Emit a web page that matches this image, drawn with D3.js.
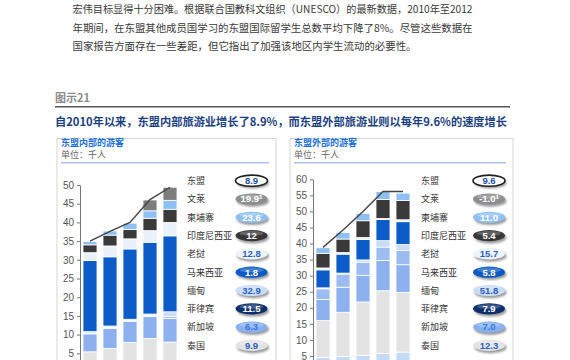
<!DOCTYPE html>
<html><head><meta charset="utf-8">
<script src="https://cdn.jsdelivr.net/npm/d3@7"></script>
<style>body{margin:0;background:#fff}svg{display:block}</style>
</head><body>
<script>
// ---------- DATA ----------
const years = ["2010","2011","2012","2013","2014"];
const stackOrder = ["越南","泰国","新加坡","菲律宾","缅甸","马来西亚","老挝","印度尼西亚","柬埔寨","文莱"];
// 东盟内部的游客 (千人)
const intraVietnam   = [0,0,0,0,0];
const intraThailand  = [5.4,6.3,7.9,9.0,8.0];
const intraSingapore = [4.8,5.3,5.6,5.8,6.3];
const intraPhilippines=[0.2,0.3,0.3,0.3,0.5];
const intraMyanmar   = [0.4,0.4,0.3,0.4,1.3];
const intraMalaysia  = [19.0,18.5,18.8,19.2,20.3];
const intraLaos      = [2.1,2.9,2.7,3.1,3.6];
const intraIndonesia = [2.1,2.9,2.5,3.3,3.5];
const intraCambodia  = [0.9,1.1,1.7,2.0,2.4];
const intraBrunei    = [0,0,0,2.9,3.5];
const intraTotal     = [35.0,37.6,40.0,46.1,49.4];
// 东盟外部的游客 (千人)
const extraVietnam   = [4.5,4.8,5.2,5.8,6.2];
const extraThailand  = [11.5,13.8,16.6,19.5,18.6];
const extraSingapore = [6.6,7.8,8.3,9.4,8.6];
const extraPhilippines=[3.3,4.1,4.1,4.2,4.4];
const extraMyanmar   = [0.3,0.3,0.7,2.0,1.9];
const extraMalaysia  = [5.6,5.9,6.4,6.6,7.1];
const extraLaos      = [0.6,0.5,0.6,0.3,0.6];
const extraIndonesia = [4.5,4.2,5.2,5.9,6.0];
const extraCambodia  = [1.8,2.0,2.3,2.5,2.3];
const extraBrunei    = [0,0,0,0,0];
const extraTotal     = [38.8,44.2,50.0,56.2,56.2];
// legends
const legendNames  = ["东盟","文莱","柬埔寨","印度尼西亚","老挝","马来西亚","缅甸","菲律宾","新加坡","泰国"];
const intraGrowth  = ["8.9","19.9","23.6","12","12.8","1.8","32.9","11.5","6.3","9.9"];
const extraGrowth  = ["9.6","-1.0","11.0","5.4","15.7","5.8","51.8","7.9","7.0","12.3"];
const footnoteMark = [false,true,false,false,false,false,false,false,false,false];
const intraTicks = [5,10,15,20,25,30,35,40,45,50];
const extraTicks = [5,10,15,20,25,30,35,40,45,50,55,60];
const paragraph = [
  "宏伟目标显得十分困难。根据联合国教科文组织（UNESCO）的最新数据，2010年至2012",
  "年期间，在东盟其他成员国学习的东盟国际留学生总数平均下降了8%。尽管这些数据在",
  "国家报告方面存在一些差距，但它指出了加强该地区内学生流动的必要性。"
];
const figLabel = "图示21";
const figTitle = "自2010年以来，东盟内部旅游业增长了8.9%，而东盟外部旅游业则以每年9.6%的速度增长";
const panelTitles = ["东盟内部的游客","东盟外部的游客"];
const unitLabel = "单位：千人";

// ---------- STYLE ----------
const segColor = {"越南":"#c4daf6","泰国":"#e3e3e3","新加坡":"#8db0ef","菲律宾":"#9dbcf2","缅甸":"#cadcf6",
  "马来西亚":"#0b5cc9","老挝":"#eaf1fb","印度尼西亚":"#3a3a3a","柬埔寨":"#8fc0f4","文莱":"#7d7d7d"};
const bubbleFill = {"东盟":"#ffffff","文莱":"#8e8e8e","柬埔寨":"#8fc0f4","印度尼西亚":"#383838","老挝":"#eef3fb",
  "马来西亚":"#0c5ac4","缅甸":"#c9dcf6","菲律宾":"#0d2f6c","新加坡":"#88b0f0","泰国":"#e3e3e3"};
const bubbleText = {"东盟":"#1f4fa8","文莱":"#ffffff","柬埔寨":"#ffffff","印度尼西亚":"#ffffff","老挝":"#2a62c0",
  "马来西亚":"#ffffff","缅甸":"#2a62c0","菲律宾":"#ffffff","新加坡":"#3a78d6","泰国":"#2a62c0"};
const CJK = "'Noto Sans CJK SC','Noto Sans',sans-serif";
const LAT = "'Liberation Sans',Arial,sans-serif";

const svg = d3.select("body").append("svg").attr("width",570).attr("height",360);
const defs = svg.append("defs");
const blur = defs.append("filter").attr("id","sh").attr("x","-30%").attr("y","-50%").attr("width","160%").attr("height","200%");
blur.append("feGaussianBlur").attr("stdDeviation",1.2);

// paragraph
svg.selectAll("text.para").data(paragraph).join("text")
  .attr("x",72.5).attr("y",(d,i)=>13+i*18.6)
  .attr("font-family",CJK).attr("font-size",10.6).attr("fill","#3a3a3a")
  .attr("textLength",(d,i)=>[400,400,344][i]).attr("lengthAdjust","spacingAndGlyphs")
  .text(d=>d);

svg.append("text").attr("x",55).attr("y",101.5).attr("font-family",CJK).attr("font-weight","bold")
  .attr("font-size",11).attr("fill","#8a8a8a").text(figLabel);
svg.append("line").attr("x1",55).attr("x2",510).attr("y1",106.8).attr("y2",106.8).attr("stroke","#555").attr("stroke-width",1.4);
svg.append("text").attr("x",55).attr("y",126).attr("font-family",CJK).attr("font-weight","bold")
  .attr("font-size",11.5).attr("fill","#1c3f7f").attr("textLength",452).attr("lengthAdjust","spacingAndGlyphs").text(figTitle);

function panel(cfg){
  const g = svg.append("g");
  g.append("rect").attr("x",cfg.px).attr("y",138.5).attr("width",cfg.pw).attr("height",260)
    .attr("fill","none").attr("stroke","#d6d6d6").attr("stroke-width",1);
  g.append("text").attr("x",cfg.px+4).attr("y",146.3).attr("font-family",CJK).attr("font-weight","bold")
    .attr("font-size",9).attr("fill","#1a6fd6").text(cfg.title);
  g.append("text").attr("x",cfg.px+4).attr("y",158).attr("font-family",CJK)
    .attr("font-size",9).attr("fill","#666").text(unitLabel);
  g.append("line").attr("x1",cfg.px+4).attr("x2",cfg.px+cfg.pw-7).attr("y1",162.7).attr("y2",162.7)
    .attr("stroke","#a9c4e8").attr("stroke-width",1.5);

  const x = d3.scaleBand().domain(years).range([cfg.ax, cfg.ax+100]).paddingInner(0.3).paddingOuter(0.15);
  const y = d3.scaleLinear().domain([0,cfg.max]).range([372, cfg.top]);

  const rows = years.map((yr,i)=>{ const r={year:yr}; stackOrder.forEach(c=>r[c]=cfg.series[c][i]); return r; });
  const stack = d3.stack().keys(stackOrder)(rows);
  g.append("g").selectAll("g").data(stack).join("g").attr("fill",d=>segColor[d.key])
    .selectAll("rect").data(d=>d).join("rect")
    .attr("x",d=>x(d.data.year)).attr("width",x.bandwidth())
    .attr("y",d=>y(d[1])).attr("height",d=>Math.max(0,y(d[0])-y(d[1])))
    .attr("stroke","#fff").attr("stroke-width",d=>(d[1]-d[0])>0?0.8:0);

  const yAxis = d3.axisLeft(y).tickValues(cfg.ticks).tickSize(3).tickPadding(3).tickSizeOuter(0);
  const ag = g.append("g").attr("transform",`translate(${cfg.ax},0)`).call(yAxis);
  ag.select(".domain").attr("stroke","#777");
  ag.selectAll(".tick line").attr("stroke","#777");
  ag.selectAll("text").attr("font-family",LAT).attr("font-size",10).attr("fill","#555");

  const line = d3.line().x((d,i)=>x(years[i])+x.bandwidth()/2).y(d=>y(d));
  g.append("path").datum(cfg.total).attr("d",line).attr("fill","none").attr("stroke","#444").attr("stroke-width",1.4);

  // legend
  const ly = d3.scalePoint().domain(legendNames).range([180.7,345.4]);
  const lg = g.append("g").selectAll("g").data(legendNames).join("g")
    .attr("transform",d=>`translate(0,${ly(d)})`);
  lg.append("text").attr("x",cfg.lx).attr("y",3.3).attr("font-family",CJK).attr("font-size",9)
    .attr("fill","#333").text(d=>d);
  lg.append("ellipse").attr("cx",cfg.bx+1.5).attr("cy",2).attr("rx",16).attr("ry",5.8)
    .attr("fill","#9a9a9a").attr("filter","url(#sh)");
  lg.append("ellipse").attr("cx",cfg.bx).attr("cy",0).attr("rx",16).attr("ry",5.6)
    .attr("fill",d=>bubbleFill[d]).attr("stroke",d=>d==="东盟"?"#222":"none").attr("stroke-width",1.6);
  lg.filter(d=>d!=="东盟").append("ellipse").attr("cx",cfg.bx).attr("cy",-2.2).attr("rx",12).attr("ry",2.4)
    .attr("fill","#fff").attr("opacity",0.22);
  const t = lg.append("text").attr("x",cfg.bx).attr("y",3.3).attr("text-anchor","middle")
    .attr("font-family",LAT).attr("font-weight","bold").attr("font-size",9.5)
    .attr("fill",d=>bubbleText[d]);
  t.append("tspan").text((d,i)=>cfg.growth[i]);
  t.filter((d,i)=>footnoteMark[i]).append("tspan").attr("dy",-3).attr("font-size",6).text("1");
}

panel({px:57, pw:219, ax:80, max:50, top:185, ticks:intraTicks, title:panelTitles[0], growth:intraGrowth,
  lx:187, bx:251.5, total:intraTotal,
  series:{"越南":intraVietnam,"泰国":intraThailand,"新加坡":intraSingapore,"菲律宾":intraPhilippines,"缅甸":intraMyanmar,
    "马来西亚":intraMalaysia,"老挝":intraLaos,"印度尼西亚":intraIndonesia,"柬埔寨":intraCambodia,"文莱":intraBrunei}});
panel({px:290, pw:223, ax:313, max:60, top:179.3, ticks:extraTicks, title:panelTitles[1], growth:extraGrowth,
  lx:421, bx:489, total:extraTotal,
  series:{"越南":extraVietnam,"泰国":extraThailand,"新加坡":extraSingapore,"菲律宾":extraPhilippines,"缅甸":extraMyanmar,
    "马来西亚":extraMalaysia,"老挝":extraLaos,"印度尼西亚":extraIndonesia,"柬埔寨":extraCambodia,"文莱":extraBrunei}});
</script>
</body></html>
